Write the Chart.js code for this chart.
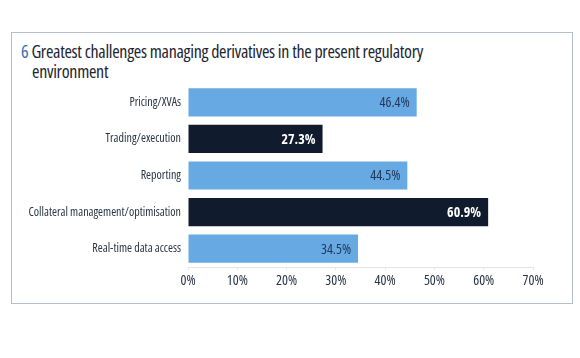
<!DOCTYPE html>
<html>
<head>
<meta charset="utf-8">
<script src="https://cdn.jsdelivr.net/npm/chart.js@4"></script>
<style>
  html, body { margin: 0; padding: 0; background: #fff; }
  #wrap { position: relative; width: 580px; height: 358px; }
  #frame {
    position: absolute; left: 11px; top: 32px; width: 560px; height: 270px;
    border: 1.5px solid #b3c0cc;
  }
  #title {
    position: absolute; left: 21px; top: 41px; width: 540px;
    font-family: "Open Sans", sans-serif; font-stretch: condensed;
    font-size: 18px; line-height: 20px; letter-spacing: -0.3px; color: #1e2530;
  }
  #title .num { color: #2f6fb0; }
  #title .indent { padding-left: 11px; }
  canvas { position: absolute; left: 0; top: 0; }
</style>
</head>
<body>
<div id="wrap">
  <div id="frame"></div>
  <div id="title"><span class="num">6</span> Greatest challenges managing derivatives in the present regulatory<br><span class="indent">environment</span></div>
  <canvas id="chart" width="580" height="358"></canvas>
</div>
<script>
const categories = ["Pricing/XVAs", "Trading/execution", "Reporting", "Collateral management/optimisation", "Real-time data access"];
const values = [46.4, 27.3, 44.5, 60.9, 34.5];
const tickValues = [0, 10, 20, 30, 40, 50, 60, 70];

const lightBlue = "#67a9e3";
const navy = "#101b2d";
const barColors = [lightBlue, navy, lightBlue, navy, lightBlue];
const fontFamily = '"Open Sans", sans-serif';

// value labels drawn inside the bar end
const barLabels = {
  id: "barLabels",
  afterDatasetsDraw(chart) {
    const ctx = chart.ctx;
    const meta = chart.getDatasetMeta(0);
    ctx.save();
    ctx.textAlign = "right";
    ctx.textBaseline = "middle";
    meta.data.forEach((bar, i) => {
      const dark = barColors[i] === navy;
      ctx.font = "condensed " + (dark ? "bold " : "") + "14px " + fontFamily;
      ctx.fillStyle = dark ? "#ffffff" : "#24395a";
      ctx.fillText(values[i].toFixed(1) + "%", bar.x - 7, bar.y + 1);
    });
    ctx.restore();
  }
};

new Chart(document.getElementById("chart"), {
  type: "bar",
  data: {
    labels: categories,
    datasets: [{
      data: values,
      backgroundColor: barColors,
      barPercentage: 0.77,
      categoryPercentage: 1
    }]
  },
  options: {
    indexAxis: "y",
    responsive: false,
    animation: false,
    layout: { padding: { left: 12, right: 47, top: 84, bottom: 66 } },
    plugins: { legend: { display: false }, tooltip: { enabled: false } },
    scales: {
      x: {
        min: 0, max: 70,
        afterBuildTicks(scale) { scale.ticks = tickValues.map(v => ({ value: v })); },
        afterFit(scale) { scale.height = 25; },
        grid: { display: true, drawOnChartArea: false, tickLength: 3, color: "#e6e9ec" },
        border: { display: true, color: "#e2e6ea" },
        ticks: {
          color: "#2a3545",
          // weight slot carries the stretch keyword (Chart.js rejects it as style)
          font: { family: fontFamily, weight: "condensed", size: 14 },
          padding: 3,
          callback: v => v + "%"
        }
      },
      y: {
        afterFit(scale) { scale.width = 176; },
        grid: { display: false, drawTicks: false },
        border: { display: false },
        ticks: {
          color: "#2a3545",
          font: { family: fontFamily, weight: "condensed", size: 12 },
          padding: 7
        }
      }
    }
  },
  plugins: [barLabels]
});
</script>
</body>
</html>
